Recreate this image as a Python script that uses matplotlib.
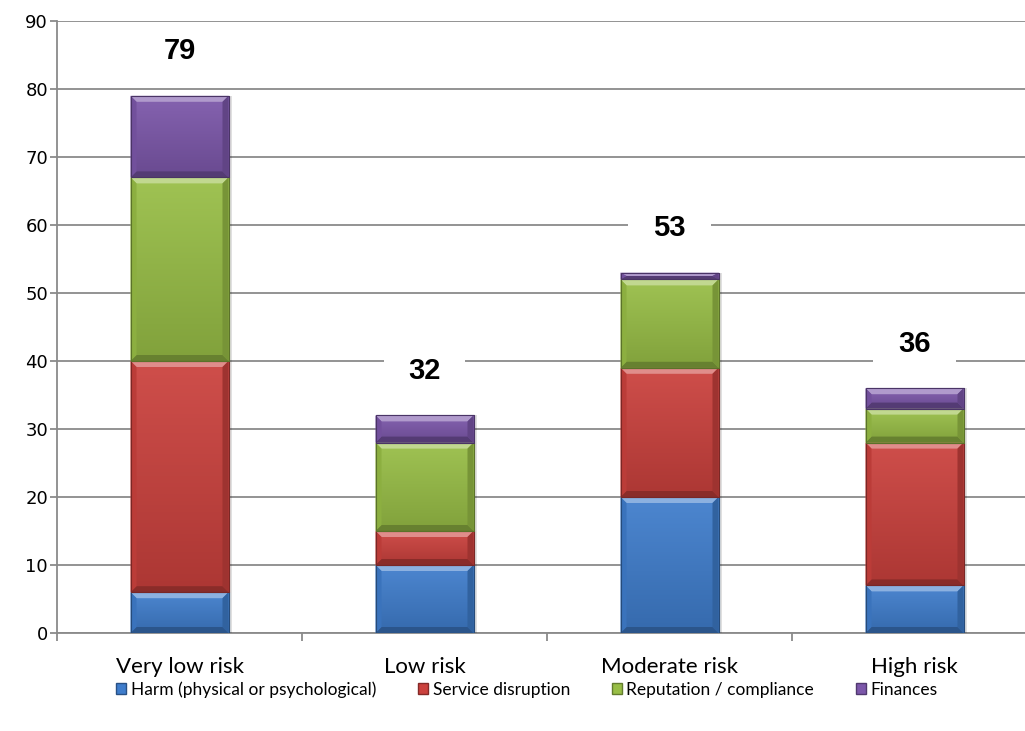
import numpy as np
import matplotlib
matplotlib.use("Agg")
import matplotlib.pyplot as plt
from matplotlib.patches import Polygon, Patch, Rectangle
from matplotlib.path import Path
from matplotlib.colors import to_rgb, LinearSegmentedColormap

categories = ["Very low risk", "Low risk", "Moderate risk", "High risk"]
series_names = ["Harm (physical or psychological)", "Service disruption",
                "Reputation / compliance", "Finances"]
harm = [6, 10, 20, 7]
service = [34, 5, 19, 21]
reputation = [27, 13, 13, 5]
finances = [12, 4, 1, 3]
totals = [79, 32, 53, 36]
y_ticks = [0, 10, 20, 30, 40, 50, 60, 70, 80, 90]

series = [harm, service, reputation, finances]
colors = ["#3F7DCC", "#CB413D", "#98BE46", "#7C57AA"]


def shade(c, f):
    r = np.array(to_rgb(c))
    if f >= 0:
        return tuple(r + (1 - r) * f)
    return tuple(r * (1 + f))


def wide_box(x0, y0, width, height, mutation_size):
    """Rectangle with extra horizontal padding around a label."""
    px, py = 0.85 * mutation_size, 0.3 * mutation_size
    x0, y0 = x0 - px, y0 - py
    x1, y1 = x0 + width + 2 * px, y0 + height + 2 * py
    return Path([(x0, y0), (x1, y0), (x1, y1), (x0, y1), (x0, y0)], closed=True)


W_PX, H_PX, DPI = 1025, 731, 100
fig = plt.figure(figsize=(W_PX / DPI, H_PX / DPI), dpi=DPI)
ax_left, ax_bottom, ax_top, ax_w = 57, 633, 21, 980
ax = fig.add_axes([ax_left / W_PX, (H_PX - ax_bottom) / H_PX,
                   ax_w / W_PX, (ax_bottom - ax_top) / H_PX])
ax.set_xlim(-0.5, 3.5)
ax.set_ylim(0, 90)

x = np.arange(len(categories))
bar_w = 0.4
px_x = ax_w / 4.0
px_y = (ax_bottom - ax_top) / 90.0
bev_px = 6

ax.yaxis.grid(True, color="#8A8A8A", lw=1.3, zorder=0)
ax.set_axisbelow(True)

grad = np.linspace(0, 1, 64).reshape(-1, 1)
bottoms = np.zeros(len(categories))
for vals, col in zip(series, colors):
    vals = np.array(vals, dtype=float)
    ax.bar(x, vals, bar_w, bottom=bottoms, color=col,
           edgecolor=shade(col, -0.35), lw=0.8, zorder=3)
    cmap = LinearSegmentedColormap.from_list("g", [shade(col, -0.15), shade(col, 0.07)])
    for xi, b, v in zip(x, bottoms, vals):
        l, r = xi - bar_w / 2, xi + bar_w / 2
        t = b + v
        # soft drop shadow to the right of each segment
        ax.add_patch(Rectangle((r, b), 3 / px_x, v, fc=(0, 0, 0, 0.12),
                               ec="none", zorder=2.9))
        im = ax.imshow(grad, extent=(l, r, b, t), origin="lower",
                       cmap=cmap, aspect="auto", zorder=3.1)
        im.set_clip_path(Rectangle((l, b), bar_w, v, transform=ax.transData))
        hx = bev_px / px_x
        hy = min(bev_px / px_y, v / 2)
        bevels = [
            ([(l, t), (r, t), (r - hx, t - hy), (l + hx, t - hy)], shade(col, 0.40)),
            ([(l, b), (r, b), (r - hx, b + hy), (l + hx, b + hy)], shade(col, -0.32)),
            ([(l, b), (l, t), (l + hx, t - hy), (l + hx, b + hy)], shade(col, -0.08)),
            ([(r, b), (r, t), (r - hx, t - hy), (r - hx, b + hy)], shade(col, -0.22)),
        ]
        for pts, fc in bevels:
            ax.add_patch(Polygon(pts, closed=True, fc=fc, ec="none", zorder=3.2))
        ax.add_patch(Rectangle((l, b), bar_w, v, fc="none",
                               ec=shade(col, -0.4), lw=0.8, zorder=3.3))
    bottoms = bottoms + vals

for xi, tot in zip(x, totals):
    ax.annotate(str(tot), (xi, tot), xytext=(0, 32), textcoords="offset points",
                ha="center", va="center", fontsize=21, fontweight="bold",
                family="Liberation Sans", color="black", zorder=5,
                bbox=dict(boxstyle=wide_box, fc="white", ec="none"))

for s in ["top", "right"]:
    ax.spines[s].set_visible(False)
for s in ["left", "bottom"]:
    ax.spines[s].set_color("#8A8A8A")
    ax.spines[s].set_linewidth(1.3)

ax.set_yticks(y_ticks)
ax.set_yticklabels([str(v) for v in y_ticks], family="DejaVu Sans", fontsize=13)
ax.tick_params(axis="y", direction="out", length=5, width=1.3, color="#8A8A8A", pad=1.5)

ax.set_xticks(x)
ax.set_xticklabels(categories, family="Lato", fontsize=16)
ax.set_xticks(np.arange(-0.5, 4.0, 1.0), minor=True)
ax.tick_params(axis="x", which="major", length=0, pad=17)
ax.tick_params(axis="x", which="minor", direction="out", length=6, width=1.3, color="#8A8A8A")

handles = [Patch(facecolor=c, edgecolor=shade(c, -0.35), label=n)
           for c, n in zip(colors, series_names)]
fig.legend(handles=handles, loc="center", bbox_to_anchor=(0.514, 0.057), ncol=4,
           frameon=False, prop={"family": "Lato", "size": 12.5},
           handlelength=0.6, handleheight=0.6, handletextpad=0.25, columnspacing=2.4)

fig.savefig("out.png", dpi=DPI)
